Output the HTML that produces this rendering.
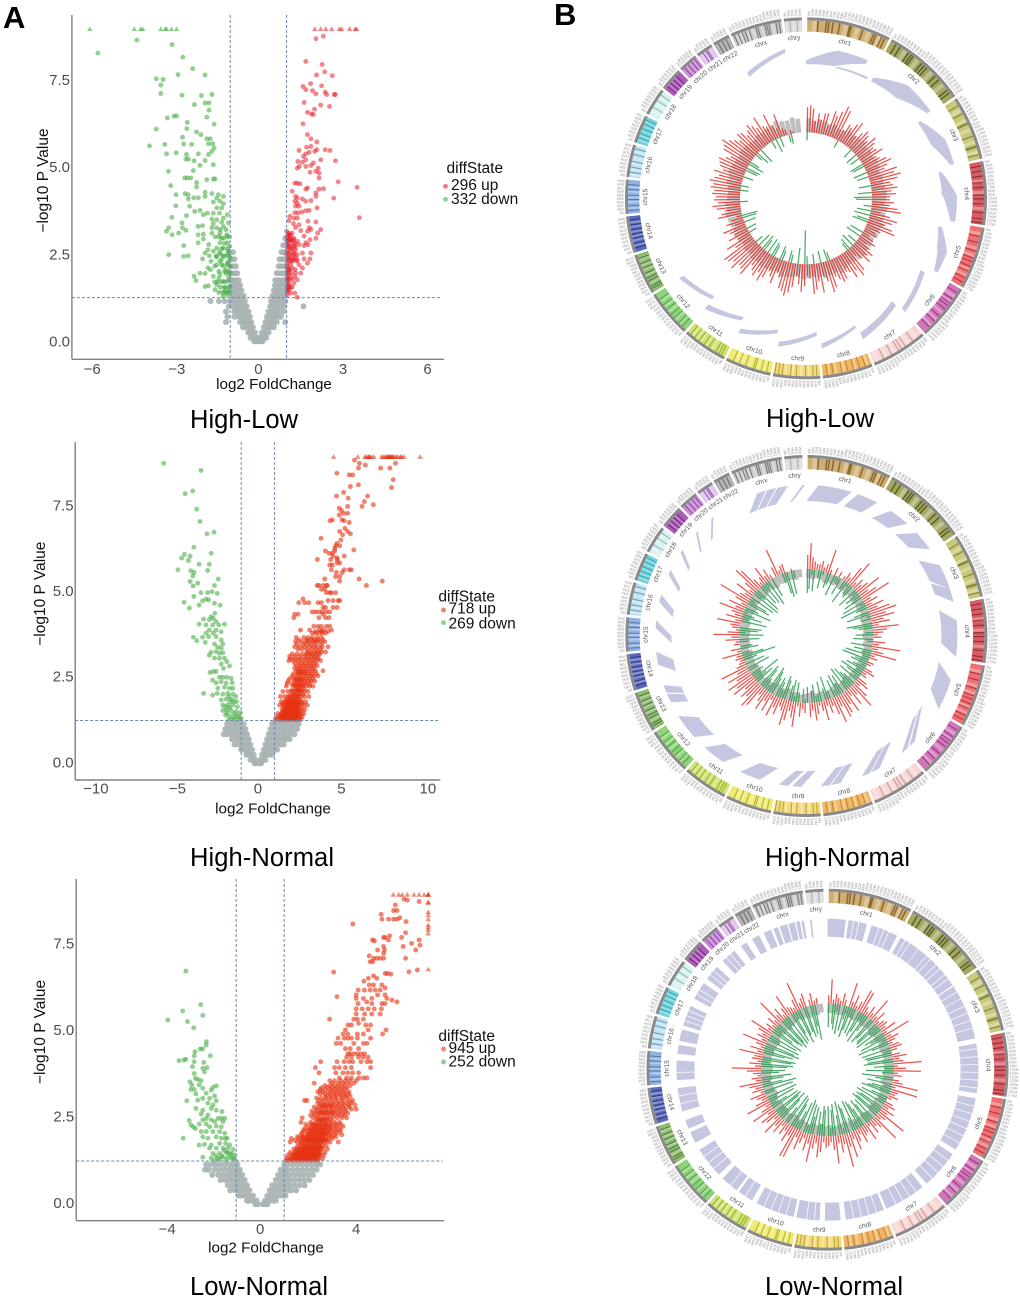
<!DOCTYPE html>
<html lang="en">
<head>
<meta charset="utf-8">
<title>Volcano and Circos panels</title>
<style>
html,body{margin:0;padding:0;background:#fff;}
svg{display:block;font-family:"Liberation Sans",sans-serif;}
</style>
</head>
<body>
<svg id="figure" xmlns="http://www.w3.org/2000/svg" width="1020" height="1300" viewBox="0 0 1020 1300">
<rect x="0" y="0" width="1020" height="1300" fill="#fff"/>
<text x="3" y="28" font-size="31" font-weight="bold">A</text>
<text x="554" y="25" font-size="31" font-weight="bold">B</text>
<text x="190" y="428" font-size="25.5" textLength="108">High-Low</text>
<text x="190" y="866" font-size="25.5" textLength="144">High-Normal</text>
<text x="190" y="1295" font-size="25.5" textLength="138">Low-Normal</text>
<text x="766" y="427" font-size="25.5" textLength="108">High-Low</text>
<text x="765" y="866" font-size="25.5" textLength="145">High-Normal</text>
<text x="765" y="1295" font-size="25.5" textLength="138">Low-Normal</text>
</svg>
<script>
/* ---------- Volcano data: High-Low ---------- */
const hlDownCapped=[-5.98,-4.40,-4.18,-4.10,-3.46,-3.30,-3.26,-3.08,-2.90];
const hlUpCapped=[2.0,2.21,2.39,2.6,2.87,2.95,3.23,3.43,3.48];
const hlDown=[[-5.69,8.31],[-4.31,8.68],[-3.06,8.55],[-2.68,8.19],[-2.33,7.86],[-1.89,7.68],[-2.85,7.69],[-3.62,7.57],[-3.38,7.55],[-3.46,7.39],[-3.46,7.15],[-2.71,7.1],[-2.02,7.09],[-1.65,7.12],[-1.89,6.88],[-1.75,6.88],[-2.27,6.83],[-1.75,6.67],[-3.23,6.45],[-2.99,6.5],[-2.9,6.51],[-1.83,6.47],[-2.52,6.32],[-1.57,6.27],[-3.62,6.13],[-2.54,6.14],[-2.19,6.05],[-2.04,5.97],[-2.69,5.9],[-1.83,5.85],[-1.71,5.85],[-3.86,5.65],[-3.32,5.69],[-2.65,5.7],[-2.37,5.69],[-1.77,5.71],[-1.62,5.71],[-1.57,5.59],[-1.65,5.49],[-3.26,5.42],[-2.92,5.45],[-2.55,5.4],[-2.13,5.42],[-1.77,5.4],[-2.57,5.27],[-2.48,5.27],[-2.28,5.22],[-1.89,5.23],[-1.6,5.11],[-2.07,5.09],[-3.19,4.92],[-2.31,4.94],[-2.61,4.73],[-2.52,4.73],[-2.4,4.73],[-1.83,4.68],[-1.6,4.7],[-1.54,4.7],[-3.11,4.51],[-2.19,4.6],[-2.92,4.25],[-2.6,4.28],[-2.49,4.25],[-2.19,4.47],[-1.89,4.32],[-1.65,4.28],[-1.42,4.25],[-1.24,4.2],[-2.49,4.13],[-2.29,4.16],[-2.13,4.16],[-1.89,4.2],[-1.48,4.15],[-1.36,4.06],[-1.24,3.99],[-1.6,4.04],[-2.93,3.93],[-2.44,3.92],[-1.48,3.87],[-1.3,3.87],[-2.26,3.77],[-2.07,3.8],[-1.95,3.68],[-1.81,3.72],[-1.6,3.72],[-1.38,3.72],[-1.1,3.68],[-3.07,3.6],[-2.55,3.65],[-1.24,3.58],[-1.65,3.55],[-1.48,3.53],[-1.3,3.46],[-1.06,3.44],[-2.71,3.44],[-1.6,3.42],[-2.14,3.34],[-1.98,3.36],[-1.65,3.3],[-1.48,3.3],[-1.24,3.34],[-3.18,3.3],[-3.26,3.2],[-2.69,3.3],[-2.57,3.23],[-1.65,3.15],[-1.36,3.15],[-2.14,3.1],[-1.95,3.12],[-3.06,3.1],[-2.83,3.15],[-1.12,3.1],[-1.02,3.04],[-1.54,3.04],[-1.95,2.98],[-1.24,3.0],[-2.14,2.87],[-1.76,2.82],[-1.36,2.87],[-1.1,2.87],[-1.02,2.77],[-2.65,2.79],[-1.48,2.72],[-1.24,2.72],[-1.79,2.67],[-1.89,2.58],[-1.6,2.63],[-1.38,2.6],[-1.06,2.63],[-3.18,2.53],[-2.65,2.48],[-2.49,2.5],[-1.98,2.41],[-1.74,2.5],[-1.48,2.46],[-1.18,2.48],[-1,2.44],[-1.68,2.34],[-1.36,2.34],[-1.1,2.29],[-1.48,2.24],[-1.24,2.2],[-1.0,2.2],[-1.79,2.15],[-2.07,2.0],[-2.28,1.91],[-2.21,1.79],[-1.89,1.99],[-1.6,1.91],[-1.36,1.96],[-1.14,1.99],[-1,2.0],[-1.89,1.62],[-1.77,1.64],[-1.48,1.67],[-1.24,1.77],[-1.06,1.8],[-1.54,1.53],[-1.18,1.58],[-1,1.62],[-1.26,1.34],[-1.12,1.38],[-1,1.43],[-1.05,1.9],[-1.15,2.1],[-1.05,2.35],[-1.3,2.4],[-1.55,2.2],[-1.7,2.1],[-1.4,1.85],[-1.55,1.75],[-1.2,1.47],[-1.05,1.5],[-1.35,2.55],[-1.1,2.55],[-1.2,2.85],[-1.3,3.0]];
const hlDownCoreRows=[[1.45,-1.1,-1.25,-1.4],[1.6,-1.05,-1.2,-1.35],[1.75,-1.15,-1.3,-1.45],[2.05,-1.05,-1.2,-1.4],[2.25,-1.1,-1.3],[2.5,-1.05,-1.25,-1.5],[2.7,-1.1,-1.3],[3.05,-1.12,-1.4],[3.25,-1.15,-1.35]];
const hlUp=[[2.04,8.72],[2.3,8.79],[1.68,8.07],[2.26,7.98],[2.35,7.77],[2.06,7.68],[2.62,7.66],[1.85,7.43],[1.58,7.35],[2.24,7.37],[1.68,7.26],[1.92,7.23],[2.04,7.14],[2.37,7.19],[2.42,7.12],[2.69,7.12],[2.73,7.12],[1.62,6.89],[2.21,6.82],[2.52,6.78],[1.99,6.7],[1.74,6.61],[1.88,6.56],[1.95,6.55],[1.58,6.28],[1.74,5.97],[1.86,5.85],[2.07,5.76],[1.71,5.61],[1.86,5.63],[2.0,5.49],[2.07,5.54],[2.37,5.54],[2.54,5.52],[1.44,5.52],[1.8,5.46],[1.68,5.42],[1.6,5.35],[2.21,5.25],[1.4,5.2],[1.56,5.18],[1.68,5.25],[1.95,5.16],[2.73,5.22],[1.45,5.06],[1.68,5.06],[1.86,5.09],[2.12,5.01],[1.38,5.01],[1.83,4.89],[2.04,4.92],[2.15,4.87],[2.83,4.62],[1.29,4.58],[1.38,4.58],[1.48,4.56],[2.15,4.73],[3.5,4.46],[1.74,4.44],[1.68,4.41],[2.15,4.41],[2.31,4.42],[1.2,4.35],[2.04,4.3],[1.32,4.2],[1.38,4.15],[2.67,4.15],[1.56,4.13],[2.04,4.2],[1.68,4.06],[1.86,4.08],[1.29,4.06],[1.38,4.01],[1.32,3.92],[2.08,3.87],[1.44,3.92],[1.68,3.79],[1.8,3.8],[1.29,3.73],[1.4,3.73],[1.54,3.75],[1.12,3.63],[3.58,3.59],[1.26,3.58],[1.08,3.51],[1.38,3.58],[1.76,3.49],[2.04,3.47],[1.24,3.42],[1.44,3.39],[1.32,3.31],[1.8,3.3],[1.86,3.25],[2.21,3.25],[1.5,3.22],[1,3.2],[1.08,3.15],[1.2,3.15],[1.74,3.2],[2.1,3.15],[1.02,3.04],[1.14,3.06],[1.26,3],[1.62,3.06],[2.04,3],[1.83,2.96],[1.02,2.91],[1.2,2.88],[1.38,2.91],[1.68,2.87],[1.08,2.79],[1.26,2.79],[1.44,2.82],[1.62,2.79],[1.76,2.82],[1.14,2.67],[1.32,2.67],[1.02,2.67],[1.86,2.58],[1,2.53],[1.2,2.53],[1.38,2.53],[1.56,2.58],[1.08,2.41],[1.26,2.41],[1.38,2.39],[1.62,2.41],[1.83,2.41],[1.02,2.29],[1.14,2.24],[1.44,2.24],[1.74,2.29],[1.02,2.15],[1.2,2.15],[1.56,2.15],[1.05,2.02],[1.17,2],[1.32,2],[1.5,2],[1.02,1.91],[1.12,1.81],[1.38,1.81],[1.26,1.72],[1.05,1.67],[1.05,1.53],[1.14,1.43],[1.29,1.43],[1.02,1.38],[1.38,1.31],[1.05,2.85],[1.1,2.98],[1.05,2.6],[1.15,2.45],[1.05,2.45],[1.03,2.2],[1.1,2.1],[1.03,2.05],[1.1,1.95],[1.03,1.8],[1.08,1.7],[1.03,1.6],[1.1,1.55],[1.03,1.47],[1.2,2.7],[1.25,2.6],[1.3,2.45],[1.18,2.35],[1.3,2.85],[1.15,2.95],[1.3,1.9]];
const hlUpCoreRows=[[1.6,1.12,1.2],[1.85,1.05,1.2],[2.1,1.1,1.3],[2.35,1.05,1.2,1.35],[2.55,1.1,1.28],[2.75,1.05,1.15,1.3],[2.95,1.05,1.15,1.25],[3.1,1.05,1.12]];
const hlNoneRows=[[0.05,-0.05,-0.1,-0.15,0.05,0.1,0.15],[0.15,-0.05,-0.12,-0.2,-0.28,0.05,0.12,0.2,0.28],[0.3,-0.12,-0.2,-0.28,-0.36,0.12,0.2,0.28,0.36],[0.45,-0.2,-0.28,-0.36,-0.45,-0.55,0.2,0.28,0.36,0.45,0.55],[0.6,-0.25,-0.35,-0.45,-0.55,-0.65,-1.15,0.25,0.35,0.45,0.55,0.65,0.95],[0.75,-0.3,-0.4,-0.5,-0.6,-0.7,-0.85,-1.1,0.3,0.4,0.5,0.6,0.7,0.8],[0.9,-0.35,-0.45,-0.55,-0.65,-0.75,-0.85,-1.15,0.35,0.45,0.55,0.65,0.75,0.9],[1.05,-0.42,-0.52,-0.62,-0.72,-0.82,-0.92,-1.05,0.42,0.52,0.62,0.72,0.82,0.92,1.6],[1.2,-0.48,-0.58,-0.68,-0.78,-0.88,-1,-1.2,-1.4,-1.7,0.45,0.55,0.65,0.75,0.85,0.95],[1.35,-0.52,-0.62,-0.72,-0.82,-0.92,0.5,0.6,0.7,0.8,0.9],[1.5,-0.6,-0.7,-0.8,-0.9,0.55,0.65,0.75,0.85,0.95],[1.65,-0.65,-0.75,-0.85,-0.95,0.58,0.68,0.78,0.88,0.97],[1.8,-0.7,-0.8,-0.9,-0.98,0.6,0.7,0.8,0.9,0.98],[2,-0.75,-0.85,-0.95,0.65,0.75,0.85,0.95],[2.2,-0.8,-0.9,-0.98,0.72,0.82,0.92],[2.4,-0.85,-0.95,0.75,0.85,0.95],[2.6,-0.9,-1,0.82,0.92],[2.8,0.88,0.97],[3,0.95]];

/* ---------- Volcano data: High-Normal ---------- */
const hnUpCapped=[4.53,5.98,6.4,6.5,6.6,6.65,6.7,6.8,6.95,7.4,7.5,7.6,7.7,7.75,7.8,7.85,7.9,7.95,8,8.05,8.1,8.2,8.3,8.4,8.55,8.6,8.75,9.72];
const hnDownCapped=[];
const hnDown=[[-5.64,8.81],[-3.41,8.6],[-4.36,7.92],[-3.9,8.0],[-3.66,7.47],[-3.47,7.11],[-3.05,6.75],[-2.63,6.8],[-3.84,6.36],[-2.8,6.18],[-4.4,6.15],[-4.57,6.04],[-4.06,6.1],[-4.16,5.97],[-4.79,5.7],[-4.02,5.67],[-3.82,5.62],[-3.52,5.86],[-2.91,5.86],[-3.01,5.68],[-3.9,5.52],[-4.06,5.36],[-3.6,5.31],[-3.88,5.23],[-2.38,5.43],[-2.6,5.24],[-3.41,5.03],[-3.01,5.03],[-2.75,5.06],[-2.44,5.01],[-3.84,4.92],[-4.42,4.75],[-3.31,4.79],[-3.11,4.84],[-2.95,4.82],[-2.6,4.72],[-2.26,4.67],[-4.1,4.58],[-3.52,4.67],[-2.58,4.43],[-2.81,4.33],[-2.67,4.28],[-2.5,4.19],[-3.25,4.26],[-2.91,4.24],[-2,4.11],[-3.52,4.11],[-3.11,4.09],[-2.71,4.09],[-2.34,4.09],[-2.5,3.94],[-2.91,3.94],[-2.2,3.89],[-3.11,3.85],[-2.67,3.85],[-3.86,3.73],[-3.66,3.63],[-3.31,3.73],[-2.95,3.75],[-2.5,3.75],[-3.15,3.58],[-2.2,3.65],[-2.1,3.53],[-2.6,3.53],[-2.41,3.44],[-2.2,3.41],[-2.81,3.29],[-2.5,3.31],[-2.3,3.26],[-2.1,3.28],[-2.91,3.21],[-2.6,3.12],[-2.3,3.12],[-2,3.12],[-1.86,3.02],[-2.2,2.95],[-2.06,2.82],[-1.7,2.89],[-2.67,2.73],[-2.87,2.7],[-2.5,2.73],[-2.3,2.56],[-2.1,2.56],[-1.86,2.56],[-1.6,2.53],[-2.71,2.48],[-2.5,2.4],[-2.2,2.43],[-1.9,2.39],[-1.54,2.4],[-2.4,2.24],[-2,2.27],[-1.7,2.24],[-1.5,2.24],[-3.25,2.09],[-2.71,2.04],[-2.44,2.09],[-2.1,2.07],[-1.8,2.09],[-1.5,2.07],[-1.33,2],[-2.2,1.9],[-1.9,1.92],[-1.6,1.92],[-1.29,1.85],[-2.1,1.75],[-1.8,1.75],[-1.5,1.75],[-1.23,1.7],[-2.1,1.59],[-1.86,1.61],[-1.6,1.59],[-1.3,1.56],[-1.05,1.53],[-1.94,1.46],[-1.7,1.43],[-1.4,1.41],[-1.13,1.41],[-1,1.36],[-1.74,1.33],[-1.4,1.33],[-1.17,1.33],[-1.75,2.0],[-1.65,1.85],[-1.45,1.85],[-1.95,1.7],[-1.7,1.68],[-1.45,1.5],[-1.55,1.35],[-1.25,1.45],[-1.85,1.52]];
const hnUpRows=[[8.9,5.78],[8.81,6.08,8.24],[8.76,6.44],[8.67,6.02,7.35,7.9],[8.52,4.73],[8.47,5.47,5.67],[8.33,8.1],[8.18,6.02],[8.13,5.54],[8.1,8],[7.96,5.13],[7.85,6.56,4.71],[7.79,5.41],[7.69,6.38],[7.55,6.24,5.37],[7.6,6.91],[7.5,4.87],[7.43,5],[7.35,5.13,5.37],[7.3,4.87],[7.16,5.03,4.46],[7.13,5.17,4.32],[7.08,5.47],[6.91,5.21],[6.82,5.37,4.9],[6.75,5.54],[6.72,5.07],[6.62,3.78],[6.57,4.97],[6.47,4.73],[6.4,4.67,4.9],[6.33,4.6],[6.28,5.74],[6.25,4.04,4.6],[6.18,4.26,4.46],[6.1,4.5,5.17],[6,4.36,3.56,4.75],[6.05,4.75],[5.9,4.9,4.75],[5.84,4.3,4.46],[5.7,4.4,5.17,5.47,5.6],[5.62,5.05,4.7],[5.5,4.9,4.65],[5.43,6.06,4.0],[5.37,7.45,4.9],[5.24,4.1,3.9,3.65,3.55,4.15,6.5],[5.13,4,3.8],[5.03,4.1,4.3,4.4,4.65],[4.85,2.7],[4.74,2.45,2.8,3.05,3.6,3.8],[4.8,4.2,4.5,4.8,4.9],[4.6,3.9,4.05,4.5,4.75],[4.47,3.45,3.25,3.65,3.85,4.1,4.3],[4.4,2.2,2.4,3.9],[4.3,2.15,3.65,4.05,4.25],[3.94,2.55,3.1,3.7,3.95,4.4],[4.05,3.35,3.6,3.8,4.1,4.3],[3.85,3.25,3.45,3.65,3.85,4.05],[3.72,2.3,2.75,3,3.25,3.55,3.8],[3.6,2.25,2.6,2.85,3.05,3.3,3.5,3.7,4],[3.45,2.2,2.5,2.8,3.1,3.35,3.6,3.85,4.2],[3.3,2.95,3.15,3.4,3.6,3.8,4.05],[3.17,1.9,2.2,2.5,2.8,3,3.2,3.4,3.6],[3.05,1.85,2.1,2.4,2.7,3,3.25,3.5,3.75],[2.9,2.3,2.55,2.75,2.95,3.15,3.35,3.55],[2.75,2.3,2.45,2.65,2.85,3.05,3.25,3.45,3.9],[2.6,2.05,2.35,2.55,2.75,2.95,3.15,3.35,3.6],[2.45,1.8,2.2,2.4,2.6,2.8,3,3.2,3.4],[2.3,1.7,2.1,2.3,2.5,2.7,2.9,3.1,3.3],[2.15,1.5,1.8,2,2.2,2.4,2.6,2.8,3],[2,1.35,1.6,1.8,2,2.2,2.4,2.6,2.8,3.05],[1.85,1.4,1.6,1.75,1.9,2.05,2.2,2.35,2.5,2.65,2.85],[1.75,1.3,1.5,1.7,1.85,2,2.15,2.3,2.45,2.6,2.75,2.95],[1.62,1.45,1.6,1.75,1.9,2.05,2.2,2.35,2.5,2.65,2.8],[1.5,1.2,1.4,1.55,1.7,1.85,2,2.15,2.3,2.45,2.6,2.75],[1.4,1.1,1.3,1.45,1.6,1.75,1.9,2.05,2.2,2.35,2.5,2.65],[1.33,1.05,1.2,1.35,1.5,1.65,1.8,1.95,2.1,2.25,2.4,2.55],[2.22,2.35,2.55,2.75],[2.07,2.1,2.3,2.5,2.7],[1.92,1.7,1.9,2.1,2.3,2.5],[1.68,1.55,1.8,2,2.2,2.4],[1.55,1.5,1.75,1.95,2.15,2.35,2.5],[1.45,1.35,1.55,1.8,2,2.25,2.45],[3.9,3.45,3.8,4.2],[3.65,2.45,2.95,3.2,3.4,3.6,3.9],[3.52,2.35,2.7,2.95,3.2,3.45,3.8],[3.38,2.4,2.65,2.95,3.25,3.5,3.75],[3.24,2.05,2.35,2.65,2.9,3.1,3.3,3.5,3.7],[3.1,1.95,2.25,2.55,2.85,3.1,3.35,3.6],[2.97,2.2,2.45,2.65,2.85,3.05,3.25,3.45],[2.82,2.2,2.4,2.55,2.75,2.95,3.15,3.35],[2.67,2.15,2.4,2.6,2.85,3.05,3.25,3.5],[2.52,1.9,2.15,2.3,2.5,2.7,2.9,3.1,3.3],[2.38,1.75,2.05,2.3,2.5,2.7,2.9,3.1],[1.8,1.5,1.7,1.95,2.15,2.4,2.6]];
const hnUpCoreRows=[[1.36,1.4,1.55,1.7,1.85,2,2.15,2.3],[1.46,1.45,1.6,1.75,1.9,2.05,2.2,2.35],[1.56,1.55,1.7,1.85,2,2.15,2.3],[1.66,1.65,1.8,1.95,2.1,2.25,2.4],[1.78,1.75,1.9,2.05,2.2,2.35],[1.88,1.8,1.95,2.1,2.25,2.4],[2.02,1.9,2.1,2.25,2.4],[2.18,2.05,2.25,2.4,2.55],[2.33,2.2,2.35,2.5,2.65],[2.5,2.3,2.45,2.65],[2.7,2.45,2.6,2.8]];
const hnNoneRows=[[0.05,-0.1,-0.2,0.1,0.2],[0.15,-0.15,-0.3,-0.45,0.15,0.3,0.45],[0.3,-0.25,-0.4,-0.55,-0.7,0.25,0.4,0.55,0.7,0.85],[0.45,-0.35,-0.5,-0.65,-0.8,-1,0.35,0.5,0.65,0.8,1,1.15],[0.6,-0.45,-0.6,-0.75,-0.95,-1.15,-1.4,0.45,0.6,0.75,0.95,1.15,1.35,1.55],[0.75,-0.55,-0.7,-0.9,-1.1,-1.3,-1.55,0.55,0.7,0.9,1.1,1.3,1.5,1.7,1.9],[0.9,-0.65,-0.8,-1,-1.2,-1.4,-1.6,-1.85,-2.05,0.65,0.8,1,1.2,1.4,1.6,1.8,2,2.2],[1.05,-0.75,-0.95,-1.15,-1.35,-1.55,-1.75,-1.95,0.75,0.95,1.15,1.35,1.55,1.75,1.95,2.15,2.35],[1.2,-0.85,-1.05,-1.25,-1.45,-1.65,-1.85,0.85,1.05,1.25,1.45,1.65,1.85,2.05,2.25,2.45]];

/* ---------- Volcano data: Low-Normal ---------- */
const lnUpCapped=[5.54,5.77,5.92,6.13,6.41,6.62,6.83,7,7,7];
const lnColumnCapped=[8.79,8.75,8.5,8.41,8.29,8.12,8.05,7.98,7.88,6.84];
const lnDown=[[-3.1,6.79],[-2.48,5.82],[-3.23,5.64],[-2.39,5.51],[-3.85,5.38],[-3.03,5.33],[-2.77,5.15],[-2.24,4.75],[-2.25,4.65],[-2.4,4.54],[-2.72,4.46],[-2.5,4.54],[-2.75,4.34],[-2.08,4.34],[-3.38,4.2],[-3.17,4.22],[-3.1,4.24],[-2.75,4.17],[-2.35,4.15],[-2.82,4.03],[-2.39,3.98],[-2.22,4.0],[-2.32,3.88],[-2.75,3.83],[-2.7,3.69],[-2.6,3.66],[-2.46,3.62],[-2.93,3.59],[-2.85,3.5],[-2.54,3.5],[-1.83,3.47],[-1.97,3.43],[-2.89,3.37],[-2.75,3.37],[-2.39,3.4],[-2.04,3.35],[-2.68,3.24],[-2.25,3.26],[-1.9,3.18],[-2.6,3.06],[-2.39,3.11],[-2.11,3.11],[-3.06,3.04],[-1.83,3.04],[-2.18,2.97],[-1.97,2.92],[-2.68,2.82],[-2.39,2.77],[-2.04,2.82],[-1.83,2.77],[-1.59,2.73],[-2.46,2.66],[-2.18,2.63],[-2.25,2.53],[-1.76,2.53],[-1.62,2.53],[-1.48,2.53],[-2.96,2.47],[-2.39,2.49],[-2.04,2.49],[-1.9,2.44],[-1.55,2.44],[-2.89,2.34],[-2.54,2.37],[-2.25,2.37],[-2.11,2.29],[-1.83,2.31],[-1.62,2.29],[-2.79,2.29],[-2.7,2.24],[-2.46,2.15],[-2.25,2.15],[-1.97,2.15],[-1.69,2.15],[-1.48,2.1],[-3.21,1.96],[-2.39,2],[-2.18,1.96],[-1.83,2],[-1.62,1.96],[-1.38,1.96],[-2.54,1.76],[-2.32,1.78],[-2.04,1.76],[-1.69,1.81],[-1.44,1.81],[-1.27,1.76],[-2.11,1.67],[-1.83,1.67],[-1.55,1.67],[-1.34,1.67],[-1.13,1.64],[-2.39,1.41],[-1.97,1.52],[-1.69,1.52],[-1.41,1.54],[-1.2,1.52],[-1.06,1.47],[-2.04,1.38],[-1.76,1.38],[-1.55,1.41],[-1.34,1.41],[-1.13,1.38],[-1.69,1.35],[-1.9,1.32],[-1.41,1.33],[-1.45,1.95],[-1.5,1.6],[-1.25,1.5],[-1.6,1.45],[-1.2,1.38],[-1.05,1.35],[-1.85,1.45],[-1.35,1.55]];
const lnUpRows=[[8.87,5.99],[8.84,6.13],[8.8,6.62],[8.7,5.63],[8.54,5.56,5.7],[8.43,5.04],[8.29,5.07,5.35,5.56,5.7],[8.33,5.82],[8.22,6.08],[8.15,3.86],[7.9,6.06],[7.81,5.39],[7.76,5.14,5.21,5.89],[7.69,4.68,5.34,6.62],[7.66,4.76],[7.59,6.31],[7.54,6.66],[7.4,4.89,5.18,6.48],[7.5,5.14,5.96],[7.3,5.14],[7.23,4.54],[7.16,4.72,4.86,5,6.06,5.14],[7.06,4.58,4.69],[6.77,6.2],[6.82,6.55],[6.76,3.06],[6.72,5.21,5.31],[6.7,5.45],[6.65,4.72],[6.58,4.86,4.51],[6.5,4.32],[6.39,4.54,4.72,5.07],[6.3,5.21],[6.24,4.08,4.34,4.58,4.79,5],[6.1,4.89],[6.05,3.2],[6.1,4,5.2],[6,4,4.3,4.65,5.28],[5.95,5.49],[5.9,5.7,4.44],[5.85,4.08,4.65,5.07,5.2],[5.7,4,4.25,4.5,4.75,5.05],[5.55,4.65,4.0,4.35,5],[5.4,2.89,3.9,4.05,4.3],[5.28,4.1],[5.23,3.66,3.8,4.4,4.6],[5.09,5.24,3.55,4.5],[4.97,5.1,4.3,3.45,3.65,4.05],[4.85,3.24,3.5,3.65,3.8,4.05,4.6],[4.7,3.17,3.35,3.9,4.45,4.3],[4.55,3.55,3.75,4.1],[4.4,3.65,3.75,4.05,4.2,4.35,3.9],[4.3,3.6,3.8,4.1,4.3,4.5],[4.17,2.52,3.5,3.2,3.7,3.85,4.2,4.45,4.6],[4,2.3,3.1,3.3,3.55,3.8,4.6],[3.85,2.45,3.15,3.45,3.65,3.85,4.1],[3.7,3.3,3.6,3.8,4.1,4.3,4.45],[3.55,2.25,3,3.25,3.45,3.65,3.9],[3.42,2.55,2.8,3,3.2,3.4,3.6],[3.3,2.4,2.6,2.85,3.05,3.25,3.45,3.7],[3.18,2.75,2.95,3.15,3.35,3.55,3.75],[3.05,1.85,1.95,2.45,2.65,2.85,3.05,3.25,3.45,3.7,3.85],[2.92,2.5,2.7,2.9,3.1,3.3,3.5,3.7,3.95],[2.8,2.35,2.55,2.75,2.95,3.15,3.35,3.55,3.8,4],[2.68,2.25,2.45,2.65,2.85,3.05,3.25,3.45,3.65],[2.55,1.75,2.2,2.4,2.6,2.8,3,3.2,3.4,3.6],[2.42,1.7,2.1,2.3,2.5,2.7,2.9,3.1,3.3],[2.3,2,2.2,2.4,2.6,2.8,3,3.2,3.45],[2.18,1.8,1.95,2.15,2.35,2.55,2.75,2.95,3.15,3.35],[2.06,1.7,1.9,2.1,2.3,2.5,2.7,2.9,3.1,3.4],[1.95,1.3,1.6,1.8,2,2.2,2.4,2.6,2.8,3],[1.85,1.25,1.55,1.75,1.95,2.1,2.25,2.4,2.55,2.7,2.9,3.25],[1.75,1.65,1.85,2,2.15,2.3,2.45,2.6,2.75],[1.65,1.4,1.55,1.7,1.85,2,2.15,2.3,2.45,2.6,2.8],[1.55,1.25,1.45,1.6,1.75,1.9,2.05,2.2,2.35,2.5,2.7],[1.47,1.15,1.3,1.45,1.6,1.75,1.9,2.05,2.2,2.35,2.5,2.65],[1.38,1.1,1.25,1.4,1.55,1.7,1.85,2,2.15,2.3,2.45,2.6],[1.32,1.08,1.2,1.35,1.5,1.65,1.8,1.95,2.1,2.25,2.4],[2.48,2.45,2.6,2.75,2.95],[2.24,2.3,2.5,2.7,2.9],[2.1,2.2,2.4,2.6,2.8],[1.9,1.9,2.05,2.2,2.4,2.55,2.7],[1.7,1.75,1.95,2.1,2.25,2.4,2.55],[1.6,1.6,1.8,1.95,2.1,2.25,2.4],[1.5,1.5,1.7,1.85,2,2.15,2.3,2.45],[1.42,1.45,1.6,1.8,1.95,2.1,2.25,2.4],[3.62,2.9,3.1,3.35,3.55,3.75,4],[3.48,2.7,2.9,3.1,3.3,3.5,3.75],[3.36,2.5,2.7,2.95,3.15,3.35,3.55],[3.24,2.5,2.7,2.9,3.1,3.3,3.5,3.65],[3.12,2.35,2.55,2.75,2.95,3.15,3.4,3.6],[2.98,2.4,2.6,2.8,3,3.2,3.4,3.6,3.8],[2.86,2.25,2.45,2.65,2.85,3.05,3.25,3.45,3.7],[2.74,2.15,2.35,2.55,2.75,2.95,3.15,3.35,3.55],[2.62,2.1,2.3,2.5,2.7,2.9,3.1,3.3,3.5],[2.36,1.9,2.15,2.35,2.55,2.75,2.95,3.15,3.35],[2.24,1.85,2.1,2.3,2.5,2.7,2.9,3.1,3.3],[2.12,1.75,2.05,2.25,2.45,2.65,2.85,3.05,3.25],[2,1.55,1.75,1.95,2.15,2.35,2.55,2.75,2.95,3.15],[1.9,1.45,1.7,1.9,2.05,2.2,2.35,2.5,2.65,2.8]];
const lnUpCoreRows=[[1.35,1.3,1.5,1.65,1.8,1.95,2.1,2.3],[1.44,1.35,1.5,1.7,1.9,2.05,2.2,2.35],[1.52,1.4,1.6,1.8,1.95,2.1,2.25,2.4],[1.62,1.5,1.7,1.85,2,2.2,2.35,2.5],[1.72,1.55,1.8,1.95,2.1,2.3,2.45],[1.82,1.7,1.85,2,2.2,2.35,2.5],[1.98,1.8,2,2.15,2.3,2.45,2.6],[2.08,2,2.15,2.35,2.5,2.65],[2.2,2.05,2.2,2.4,2.55,2.7],[2.34,2.2,2.35,2.5,2.65,2.8],[2.5,2.35,2.5,2.65,2.8],[2.7,2.5,2.65,2.8,3],[2.9,2.6,2.75,2.95]];
const lnNoneRows=[[0.05,-0.1,-0.2,0.1,0.2,0.3],[0.15,-0.15,-0.3,-0.45,-0.55,0.2,0.35,0.5,0.65],[0.3,-0.3,-0.45,-0.6,-0.75,-0.9,0.3,0.45,0.6,0.75,0.9,1.05],[0.45,-0.45,-0.6,-0.75,-0.9,-1.05,-1.25,0.4,0.55,0.7,0.85,1,1.15,1.3,1.5],[0.6,-0.55,-0.7,-0.85,-1,-1.15,-1.35,0.5,0.65,0.8,0.95,1.1,1.25,1.45,1.65,1.85],[0.75,-0.65,-0.8,-0.95,-1.1,-1.25,-1.45,-1.65,0.65,0.8,0.95,1.1,1.25,1.45,1.65,1.85,2.05],[0.9,-0.75,-0.9,-1.05,-1.2,-1.35,-1.55,-1.75,-2.0,0.75,0.9,1.05,1.2,1.4,1.6,1.8,2,2.2],[1.05,-0.85,-1,-1.15,-1.3,-1.5,-1.7,-1.9,-2.15,-2.3,0.85,1,1.15,1.35,1.55,1.75,1.95,2.15,2.35],[1.2,-0.95,-1.1,-1.25,-1.45,-1.65,-1.85,-2.05,-2.25,1,1.15,1.35,1.55,1.75,1.95,2.15,2.35,2.5]];

/* ---------- Circos data ---------- */
const chrNames=['chr1','chr2','chr3','chr4','chr5','chr6','chr7','chr8','chr9','chr10','chr11','chr12','chr13','chr14','chr15','chr16','chr17','chr18','chr19','chr20','chr21','chr22','chrx','chry'];
const chrSpans=[28,28,21.7,21.3,21,19,19,17,16,15.7,15.3,16,14,12.6,11.8,11.3,9.9,9.7,8.2,7,6.2,6.3,17.5,6.6];
const chrFill=['#cfae72','#a5a862','#c9c97c','#d65c66','#ef7074','#d077b8','#f9d6d6','#f1b664','#f3da7c','#efeb74','#d2e272','#90d27c','#90ba72','#5a6abb','#92b3e2','#c3e2f2','#74d2da','#daf2f2','#ab5cb3','#ca8cd2','#e2c4ea','#aaaaaa','#cacaca','#dedede'];
const chrDark=['#6b4a1c','#3f4212','#6a6a25','#7a1c22','#a02025','#8e0f7d','#a98080','#a87420','#a08a20','#9a9a10','#7a9a10','#2a9a2a','#2f6a1f','#1f2a70','#3a5fa0','#4a7fa0','#1a9aa8','#6aa0a0','#6a1a80','#8030a0','#7a30a0','#606060','#505050','#9a9a9a'];
const chrBands=[[12,22,25,30,38,50,52,66,80,83,90,94],[6,12,24,28,31,44,48,52,66,72,88,92],[10,24,40,42,62,78,80,92],[6,14,22,32,40,52,58,66,80,90,96],[14,24,38,50,56,64,72,84,92],[8,22,30,36,44,60,72,86],[20,36,44,50,64,80],[12,24,36,48,60,78,90],[6,14,30,50,62,80,88,96],[8,20,34,38,56,70,84],[8,14,22,40,52,66,78,90],[10,20,34,44,58,70,84],[8,14,28,36,48,62,74,88],[10,22,36,48,60,74,88],[8,22,40,52,70,84],[14,30,48,70,88],[18,34,52,70,86],[30,58,82],[14,34,52,72],[16,40,64,84],[30,50,60],[22,48,72],[4,12,20,26,34,48,52,66,70,74,88,94],[30,70]];
const chrLight=[[6,44,58,72,86],[18,36,58,78],[16,34,50,70,86],[28,46,72],[8,32,44,68,78],[14,26,50,66,80],[10,28,56,72,90],[6,30,54,70,84],[22,38,56,72],[14,28,46,64,76],[30,46,60,72,84],[16,28,50,64,78],[20,42,56,68,82],[16,30,42,54,68,80],[14,32,46,62,76],[6,22,40,58,78],[10,26,44,62,78],[14,44,70],[24,44,62],[28,52,74],[14,40,76],[10,36,60,86],[8,16,30,40,58,80],[10,50,88]];
const hlRed=[25,27,24,12,20,14,21,22,10,26,22,28,35,32,12,20,18,24,28,14,20,25,22,18,26,22,18,20,25,16,18,24,28,22,18,30,26,32,28,20,22,26,20,24,18,18,22,18,26,30,10,20,28,24,18,26,30,16,12,14,8,14,18,10,16,22,18,24,16,10,26,30,22,28,20,18,24,26,22,18,28,32,20,14,30,18,26,30,14,12,22,28,20,12,24,30,34,30,28,18,14,26,20,16,24,30,22,28,24,20,34,30,28,36,30,34,36,20,28,14,22,14,18,24,10,18,12,6,24,20,16,24,28,22,26,24,28,26,30,28,32,28,24,30,22,26,28,30,24,20,30,32,36,30,26,22,28,26,20,24,28,24,20,30,18,16,28,14,10,24,8,6,0,4,2,0,0,0,0,0];
const hlGreen=[8,0,0,0,0,0,0,0,0,0,0,0,0,0,8,0,0,0,0,0,0,10,0,0,12,0,10,0,0,14,12,0,0,14,0,12,0,0,0,12,0,0,14,0,18,16,0,0,8,0,14,0,16,0,12,16,0,0,0,0,14,0,16,0,0,10,0,14,0,12,8,0,0,0,0,0,0,0,0,8,12,0,0,12,0,0,10,0,0,8,34,0,0,16,0,0,8,12,0,0,10,14,0,0,12,14,0,16,0,12,16,0,14,0,8,0,0,0,0,8,0,10,0,0,12,0,14,16,0,0,0,0,0,8,0,0,0,0,8,0,8,0,0,0,10,0,0,12,14,0,16,10,0,0,0,8,14,0,16,0,0,0,0,0,8,0,14,0,10,0,0,0,8,10,0,0,0,0,0,0];
const hlGrey=[14,12,14,13,12,13,11,12,14,13,14,15,13,14,13,15,14,12,14,13,14,15,14,13,16,15,14,16,14,15,13,15,14,16,15,14,13,15,17,14,15,16,14,13,14,15,13,14,15,16,13,14,15,16,14,15,13,14,12,14,15,13,14,15,16,14,15,13,12,13,15,14,16,15,14,13,15,14,13,12,14,13,14,15,17,15,14,16,14,0];
const hnRed=[14,26,12,8,6,6,10,4,8,24,4,0,8,0,6,0,4,10,6,20,29,6,12,8,14,26,10,18,31,8,14,6,18,10,22,28,16,24,12,18,6,26,14,10,4,8,0,12,6,28,6,12,26,4,8,0,6,4,0,8,12,4,6,0,10,14,6,18,28,10,20,8,24,14,22,25,12,28,18,8,14,6,20,10,4,12,18,8,14,0,10,6,14,4,25,16,10,20,26,12,8,18,12,22,6,20,10,22,14,8,24,28,18,22,14,26,20,28,16,24,12,28,10,6,4,8,6,20,4,10,0,6,4,14,8,26,12,4,8,10,24,6,16,8,12,26,10,18,6,14,33,12,8,20,6,14,29,25,10,4,8,18,6,12,4,0,10,28,4,8,9,0,0,2,0,0,0,0,0,0];
const hnGreen=[24,20,6,22,0,8,18,4,0,16,12,0,22,6,8,18,0,10,24,4,12,14,0,22,6,16,8,20,0,24,6,28,12,0,16,24,4,10,0,26,20,14,0,8,18,0,20,6,0,22,0,18,10,26,8,28,14,18,6,14,20,8,24,16,6,22,0,14,18,24,10,26,0,20,12,22,6,18,0,8,24,12,0,20,8,6,18,12,0,16,4,14,0,10,20,6,22,16,0,20,24,8,16,20,0,18,24,28,6,12,22,26,0,20,14,30,10,14,0,10,24,0,20,0,14,34,22,8,0,18,12,0,10,20,0,24,6,18,22,0,0,26,8,20,12,4,28,14,0,24,20,6,26,0,30,12,28,0,22,8,24,6,28,0,20,0,0,0,0,10,22,26,0,24,8,0,0,0,0,0];
const hnGrey=[9,10,8,9,11,9,10,8,10,9,11,9,10,11,9,10,8,9,11,10,9,10,11,9,10,8,9,8,9,10,8,9,10,9,12,10,9,12,10,9,8,10,9,12,10,9,8,10,9,12,10,9,12,10,9,10,8,9,10,11,9,10,9,11,8,10,9,10,11,9,10,8,9,10,11,9,10,9,11,10,9,10,11,9,10,9,9,10,8,0];
const lnRed=[8,24,4,10,6,4,12,6,0,25,6,14,4,10,24,23,8,4,12,6,25,6,14,4,8,10,6,16,4,28,6,13,8,4,10,12,6,0,8,14,6,10,28,4,12,27,4,8,0,6,10,26,4,27,8,6,10,4,0,8,12,6,14,8,31,10,6,30,12,8,14,4,18,8,10,16,6,12,20,8,26,14,34,10,18,8,28,14,6,10,12,6,16,22,8,14,28,10,18,6,12,20,8,31,32,10,18,8,14,6,16,10,22,6,14,18,8,24,12,6,25,14,6,10,16,4,12,8,14,23,6,10,4,8,14,29,6,12,4,10,8,24,6,14,4,10,25,6,12,8,14,24,6,10,4,12,6,28,8,14,4,10,23,8,6,4,12,29,6,10,14,0,6,12,4,6,0,0,0,0];
const lnGreen=[24,0,20,26,8,30,0,26,14,32,24,10,26,0,28,22,8,32,18,0,30,24,0,26,28,12,30,0,22,16,28,6,32,18,0,30,8,28,26,0,26,30,0,20,10,28,12,0,32,18,0,26,8,20,24,30,0,18,28,8,32,0,26,30,10,28,32,0,26,10,22,28,0,20,26,30,8,32,14,0,26,30,6,34,20,0,32,26,8,30,0,26,30,12,24,0,28,18,30,8,34,0,30,20,8,26,32,0,34,18,0,26,34,10,28,32,0,30,18,6,28,10,32,0,10,30,0,34,20,8,22,30,0,18,24,0,26,32,8,30,34,0,22,30,10,36,30,0,34,12,30,0,34,22,8,28,32,0,36,30,10,34,0,32,24,8,36,28,0,26,32,0,30,22,36,0,0,0,0,0];
const lnGrey=[10,9,11,10,8,10,11,9,10,11,9,10,12,10,11,9,10,11,10,9,11,10,9,11,10,12,10,11,9,10,11,10,12,9,10,11,10,9,11,10,12,11,10,9,11,10,12,10,11,9,10,11,10,12,10,9,11,10,11,9,10,12,11,10,9,11,10,12,11,10,9,11,10,11,12,10,9,11,10,12,11,10,9,11,10,12,10,11,9,0];
const hlLinks=[[0,12,134,138,135,151],[12,24,135,151,147,151],[13,27,133.5,135,133.5,136],[29,42,134,138,135,152],[42,55,135,152,148,152],[56,67,135,138,136,151],[67,77,136,151,148,152],[79,89,135,138,136,151],[89,99,137,151,146,151],[102,111,135,139,140,151],[111,119.5,141,151,147,151],[122,139,135,140,146,151],[140,158,134,140,145,152],[159,174,136,139,146,151],[175.5,190.7,134,138,146,151],[192,206.7,134,138,146,151],[207.7,222.6,134,138,144,150],[223,237.8,134,138,145,150],[335,352,134,139,147,151]];
const hnLinks=[[353,354,5.5],[335,338.5,6],[339,342.5,6],[343,347,6],[0,13,4.5],[16,24,4],[29,37,5],[41,49,6],[56,66,6],[67,72,5],[79,93,5],[101,113,6],[121,124,13],[125,128,13],[141,144.5,10],[145,148.5,10],[160,163.5,7],[164,167.5,7],[176,179.5,6],[181,184.5,6],[192,200,6],[208,217,5.5],[223,233,5],[241,244.5,3],[245,248,3],[255,260,4],[267,270,6],[278,281,5],[289,291,5],[299,300.5,4.5],[308,309,5],[315,316,6]];
const lnLinks=[[0,7],[8,15.2],[17,27.5],[29,36.8],[37,56],[56.5,65],[65.3,78],[80,99],[101,122],[124,139],[141,157],[158,173],[175,181],[183,192],[193,208],[210,216],[217,224],[226,238],[241,245.5],[247,250.5],[254,263],[266,273.5],[276,279.5],[281,285.5],[287,295],[298,305],[307,313],[316,322],[325,327.5],[330,333],[335,338],[339,340.8],[341.5,344.5],[345,347.5],[348,349.4],[350,351],[353.3,354]];
const lnLinkGaps=[10,12,20,22,24,31,33,41,43,46,48,51,53,59,62,68,71,74,82,85,88,91,94,97,104,107,110,113,116,119,127,130,133,136,144,147,150,153,161,164,167,170,185,188,196,199,202,205,213,220,229,232,235,257,260,269,289,291,293,300,302,309,311,318,320];

/* ---------- Layout configs ---------- */
const volcanoLayouts=[
 {key:'high-low',x0:258.4,xk:28.2,y0:343,yk:34.9,left:71.9,right:444.2,top:15,bottom:359.3,hRight:442,xTicks:[-6,-3,0,3,6],xLabelY:374,xTitleX:274,xTitleY:389,yTitleX:48,yTitleY:180.5,yRight:70,yShift:3.5,leg:[446.5,173,451,190,204,445.5,186.3,199.3],legText:['296 up','332 down'],down:hlDown,downRows:hlDownCoreRows,up:hlUp,upRows:hlUpCoreRows,none:hlNoneRows,downCap:hlDownCapped,upCap:hlUpCapped,upColor:'#e8202a',capColumn:[]},
 {key:'high-normal',x0:257.9,xk:16.7,y0:765,yk:34.25,left:75.2,right:440.4,top:442,bottom:780,hRight:438,xTicks:[-10,-5,0,5,10],xLabelY:793.3,xTitleX:273,xTitleY:813.3,yTitleX:45,yTitleY:593.7,yRight:73.6,yShift:2.3,leg:[438.4,601.7,448.5,613.7,628.7,443.5,610,622.7],legText:['718 up','269 down'],down:hnDown,downRows:[],up:[],upRows:hnUpRows.concat(hnUpCoreRows),none:hnNoneRows,downCap:hnDownCapped,upCap:hnUpCapped,upColor:'#e6300f',capColumn:[]},
 {key:'low-normal',x0:260.2,xk:24,y0:1206,yk:34.6,left:76.2,right:444,top:879,bottom:1220.7,hRight:442.5,xTicks:[-4,0,4],xLabelY:1234,xTitleX:266,xTitleY:1252.3,yTitleX:45,yTitleY:1032,yRight:74.2,yShift:2,leg:[438.4,1041,448.5,1053,1066.7,443.5,1049,1062],legText:['945 up','252 down'],down:lnDown,downRows:[],up:[],upRows:lnUpRows.concat(lnUpCoreRows),none:lnNoneRows,downCap:[],upCap:lnUpCapped,upColor:'#e6300f',capColumn:lnColumnCapped}
];
const yTicks=[0,2.5,5,7.5];
const circosLayouts=[
 {key:'high-low',cx:806,cy:198.3,base:66,red:hlRed,green:hlGreen,grey:hlGrey,greyDir:1,links:hlLinks,linkType:'wedge',gaps:[]},
 {key:'high-normal',cx:806.4,cy:636,base:67,red:hnRed,green:hnGreen,grey:hnGrey,greyDir:-1,links:hnLinks,linkType:'slant',gaps:[]},
 {key:'low-normal',cx:827.5,cy:1069.7,base:66.5,red:lnRed,green:lnGreen,grey:lnGrey,greyDir:-1,links:lnLinks,linkType:'stripe',gaps:lnLinkGaps}
];

/* ---------- Drawing helpers ---------- */
const SVGNS='http://www.w3.org/2000/svg';
const root=document.getElementById('figure');
function mk(tag,attrs,parent){
  const el=document.createElementNS(SVGNS,tag);
  for(const k in attrs){el.setAttribute(k,attrs[k]);}
  parent.appendChild(el);
  return el;
}
function flattenRows(rows){
  const out=[];
  rows.forEach(r=>{for(let i=1;i<r.length;i++){out.push([r[i],r[0]]);}});
  return out;
}
function label(v){return (v<0?'\u2212':'')+Math.abs(v);}

function buildVolcano(c){
  const g=mk('g',{},root);
  
  
  const xs=v=>c.x0+v*c.xk;
  const ys=v=>c.y0-v*c.yk;
  const dotG=mk('g',{},g);
  
  
  function dot(x,y,fill,op,r,name){
    const el=mk('circle',{cx:xs(x).toFixed(1),cy:ys(y).toFixed(1),r:r,fill:fill,'fill-opacity':op},dotG);
    
    
  }
  function tri(x,y,fill,op,name){
    const px=xs(x),py=ys(y);
    const el=mk('path',{d:'M'+px.toFixed(1)+' '+(py-2.7).toFixed(1)+'l2.7 4.8h-5.4z',fill:fill,'fill-opacity':op},dotG);
    
    
  }
  flattenRows(c.none).forEach(p=>dot(p[0],p[1],'#a9b3b3',0.9,3,'point-not-significant'));
  c.down.forEach(p=>dot(p[0],p[1],'#4daf4a',0.6,2.45,'point-down'));
  flattenRows(c.downRows).forEach(p=>dot(p[0],p[1],'#3fa63c',0.6,2.45,'point-down'));
  c.up.forEach(p=>dot(p[0],p[1],c.upColor,0.55,2.45,'point-up'));
  flattenRows(c.upRows).forEach(p=>dot(p[0],p[1],c.upColor,0.6,2.45,'point-up'));
  c.downCap.forEach(x=>tri(x,9,'#4daf4a',0.6,'capped-point-down'));
  c.upCap.forEach(x=>tri(x,9,c.upColor,0.55,'capped-point-up'));
  c.capColumn.forEach(y=>tri(7,y,c.upColor,0.55,'capped-point-up'));

  const dash={stroke:'#6a88b0','stroke-width':1,'stroke-dasharray':'3 2',fill:'none'};
  [-1,1].forEach(v=>{
    const l=mk('line',Object.assign({x1:xs(v),x2:xs(v),y1:c.top,y2:c.bottom},dash),g);
    
    
  });
  const h=mk('line',Object.assign({x1:c.left,x2:c.hRight,y1:ys(1.3),y2:ys(1.3)},dash),g);
  
  

  const axis={stroke:'#808080','stroke-width':1.4};
  const ay=mk('line',Object.assign({x1:c.left,x2:c.left,y1:c.top,y2:c.bottom},axis),g);
  
  
  const ax=mk('line',Object.assign({x1:c.left,x2:c.right,y1:c.bottom,y2:c.bottom},axis),g);
  
  

  c.xTicks.forEach(v=>{
    const shift=v<=-10?5:(v<0?3:(v>=10?3:0));
    const t=mk('text',{x:xs(v)+shift,y:c.xLabelY,'font-size':15,fill:'#4d4d4d','text-anchor':'middle'},g);
    t.textContent=label(v);
    
    
  });
  yTicks.forEach(v=>{
    const t=mk('text',{x:c.yRight,y:ys(v)+c.yShift,'font-size':15,fill:'#4d4d4d','text-anchor':'end'},g);
    t.textContent=v.toFixed(1);
    
    
  });
  const xt=mk('text',{x:c.xTitleX,y:c.xTitleY,'font-size':15.2,fill:'#111','text-anchor':'middle'},g);
  xt.textContent='log2 FoldChange';
  
  
  const yt=mk('text',{x:0,y:0,'font-size':15.5,fill:'#111','text-anchor':'middle',transform:'translate('+c.yTitleX+' '+c.yTitleY+') rotate(-90)'},g);
  yt.textContent='\u2212log10 P Value';
  
  

  const L=c.leg;
  const lt=mk('text',{x:L[0],y:L[1],'font-size':15.5,fill:'#111'},g);
  lt.textContent='diffState';
  
  
  const l1=mk('text',{x:L[2],y:L[3],'font-size':15.5,fill:'#111'},g);
  l1.textContent=c.legText[0];
  
  
  const l2=mk('text',{x:L[2],y:L[4],'font-size':15.5,fill:'#111'},g);
  l2.textContent=c.legText[1];
  
  
  const d1=mk('circle',{cx:L[5],cy:L[6],r:2.45,fill:c.upColor,'fill-opacity':0.6},g);
  
  
  const d2=mk('circle',{cx:L[5],cy:L[7],r:2.45,fill:'#4daf4a','fill-opacity':0.6},g);
  
  
}

function buildCircos(c){
  const g=mk('g',{},root);
  
  
  const P=(deg,r)=>{const a=deg*Math.PI/180;return [c.cx+r*Math.sin(a),c.cy-r*Math.cos(a)];};
  const fmt=p=>p[0].toFixed(2)+' '+p[1].toFixed(2);
  function quadPath(a0,a1,in0,out0,in1,out1,slant){
    /* band from a0 to a1; radii change linearly; outer edge optionally shifted by slant degrees */
    const s=slant||0;
    const steps=Math.max(2,Math.ceil(Math.abs(a1-a0)/2));
    const outer=[],inner=[];
    for(let i=0;i<=steps;i++){
      const t=i/steps;
      const a=a0+(a1-a0)*t;
      outer.push(fmt(P(a+s,out0+(out1-out0)*t)));
      inner.push(fmt(P(a,in0+(in1-in0)*t)));
    }
    return 'M'+outer.join('L')+'L'+inner.reverse().join('L')+'Z';
  }
  /* chromosome ring */
  let start=0;
  chrNames.forEach((name,i)=>{
    const span=chrSpans[i];
    const a0=start+0.4,a1=start+span-0.4;
    const cg=mk('g',{},g);
    
    
    mk('path',{d:quadPath(a0,a1,166.7,178,166.7,178),fill:chrFill[i]},cg);
    chrLight[i].forEach(p=>{
      const a=a0+(a1-a0)*p/100;
      mk('path',{d:quadPath(a,Math.min(a1,a+span*0.05),166.7,178,166.7,178),fill:'#fff','fill-opacity':0.3},cg);
    });
    chrBands[i].forEach(p=>{
      const a=a0+(a1-a0)*p/100;
      mk('path',{d:quadPath(a,Math.min(a1,a+Math.max(0.35,span*0.018)),166.7,178,166.7,178),fill:chrDark[i],'fill-opacity':0.7},cg);
    });
    mk('path',{d:quadPath(a0,a1,178,181,178,181),fill:'#8a8a8a'},cg);
    const count=Math.floor(span/1.15);
    for(let k=0;k<count;k++){
      const ang=a0+(k+0.5)*(a1-a0)/count;
      const p=P(ang,182.2);
      const t=mk('text',{x:0,y:0,'font-size':3.6,fill:'#999','dominant-baseline':'middle',transform:'translate('+p[0].toFixed(1)+' '+p[1].toFixed(1)+') rotate('+(ang-90).toFixed(1)+')'},cg);
      t.textContent=(k*10)+'M';
      
      
    }
    const mid=start+span/2;
    const lp=P(mid,160.5);
    const rot=(mid>90&&mid<270)?mid-180:mid;
    const t=mk('text',{x:0,y:0,'font-size':6.6,fill:'#555','text-anchor':'middle','dominant-baseline':'middle',transform:'translate('+lp[0].toFixed(1)+' '+lp[1].toFixed(1)+') rotate('+rot.toFixed(1)+')'},cg);
    t.textContent=name;
    
    
    start+=span;
  });
  /* link / gene density ring */
  const lg=mk('g',{fill:'#bfc1de','fill-opacity':0.9},g);
  
  
  c.links.forEach(row=>{
    let d;
    if(c.linkType==='wedge'){d=quadPath(row[0],row[1],row[2],row[3],row[4],row[5],0);}
    else if(c.linkType==='slant'){d=quadPath(row[0],row[1],135,151,135,151,row[2]);}
    else{d=quadPath(row[0],row[1],133,151,133,151,0);}
    const el=mk('path',{d:d},lg);
    
    
  });
  c.gaps.forEach(deg=>{
    const a=P(deg,132),b=P(deg,152);
    const el=mk('line',{x1:a[0].toFixed(1),y1:a[1].toFixed(1),x2:b[0].toFixed(1),y2:b[1].toFixed(1),stroke:'#fff','stroke-width':0.8,'stroke-opacity':0.9},g);
    
    
  });
  /* radial expression lines */
  const greyStep=360/c.grey.length,redStep=360/c.red.length,greenStep=360/c.green.length;
  function radial(deg,r0,r1,stroke,width,op,name,parent){
    const a=P(deg,r0),b=P(deg,r1);
    const el=mk('line',{x1:a[0].toFixed(1),y1:a[1].toFixed(1),x2:b[0].toFixed(1),y2:b[1].toFixed(1),stroke:stroke,'stroke-width':width,'stroke-opacity':op},parent);
    
    
  }
  const rg=mk('g',{},g);
  
  
  c.grey.forEach((v,i)=>{ if(v>0){radial(i*greyStep+greyStep/2,c.base,c.base+c.greyDir*v,'#bcbcbc',4.6,0.95,'grey-line',rg);} });
  c.green.forEach((v,i)=>{ if(v>0){radial(i*greenStep+1,c.base,c.base-v,'#2b9c50',1.25,0.85,'green-line',rg);} });
  c.red.forEach((v,i)=>{ if(v>0){radial(i*redStep+1,c.base,c.base+v,'#e6281f',1.25,0.8,'red-line',rg);} });
}
volcanoLayouts.forEach(buildVolcano);
circosLayouts.forEach(buildCircos);
</script>
</body>
</html>
